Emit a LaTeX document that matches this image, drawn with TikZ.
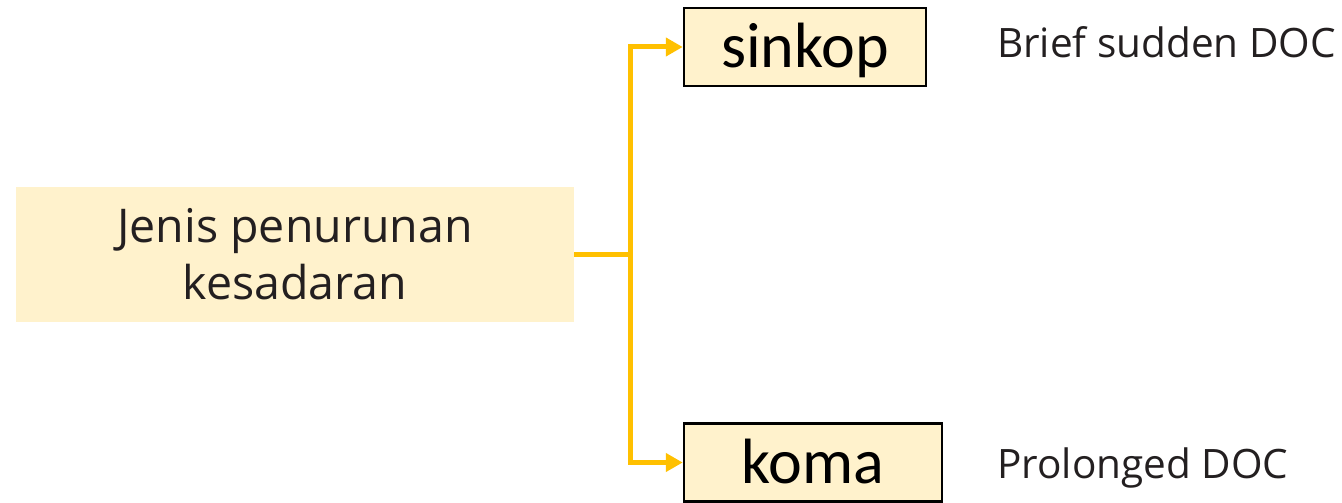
\documentclass[tikz,border=0pt]{standalone}
\usepackage{fontspec}
\setmainfont{Open Sans}
\newfontfamily\boxfont{Carlito}
\usetikzlibrary{arrows.meta}
\definecolor{paleyellow}{HTML}{FFF2CC}
\definecolor{gold}{HTML}{FFC000}
\definecolor{inktext}{HTML}{231F20}
\tikzset{
  x=1pt, y=-1pt,
  mainbox/.style={fill=paleyellow, draw=none, minimum width=558pt, minimum height=135pt,
    align=center, font=\fontsize{46.5}{57}\selectfont, text=inktext, inner sep=0pt},
  typebox/.style={fill=paleyellow, draw=black, line width=2.5pt,
    text height=60pt, text depth=18pt, inner sep=0pt,
    font=\boxfont\fontsize{64}{66}\selectfont},
  note/.style={anchor=base west, font=\fontsize{40.5}{44}\selectfont, text=inktext, inner sep=0pt},
  trunk/.style={draw=gold, line width=5pt},
  link/.style={trunk, -{Triangle[length=17pt,width=18pt]}},
}
\begin{document}
\begin{tikzpicture}
\useasboundingbox (0,0) rectangle (1342,503);
\node[mainbox] (root) at (295,254.5) {Jenis penurunan\\kesadaran};
\node[typebox, minimum width=242pt] (sinkop) at (805,47) {sinkop};
\node[typebox, minimum width=258pt] (koma) at (813,462.5) {koma};
\coordinate (split) at (630,254.5);
\draw[trunk] (root.east) -- (split);
\draw[link] (split) |- (sinkop.west);
\draw[link] (split) |- (koma.west);
\node[note] (briefdoc) at (997,58) {Brief sudden DOC};
\node[note] (longdoc) at (997,478) {Prolonged DOC};
\end{tikzpicture}
\end{document}
